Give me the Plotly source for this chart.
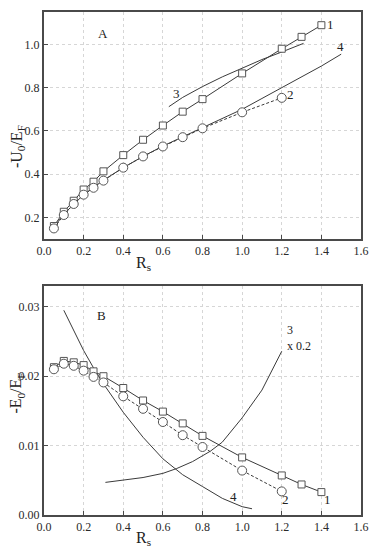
import plotly.graph_objects as go

# ---------------- data: panel A ----------------
xA1 = [0.05, 0.1, 0.15, 0.2, 0.25, 0.3, 0.4, 0.5, 0.6, 0.7, 0.8, 1.0, 1.2, 1.3, 1.4]
yA1 = [0.160, 0.226, 0.277, 0.329, 0.365, 0.413, 0.488, 0.559, 0.625, 0.689, 0.747, 0.866, 0.980, 1.035, 1.089]
xA2 = [0.05, 0.1, 0.15, 0.2, 0.25, 0.3, 0.4, 0.5, 0.6, 0.7, 0.8, 1.0, 1.2]
yA2 = [0.149, 0.211, 0.262, 0.305, 0.337, 0.370, 0.430, 0.482, 0.528, 0.571, 0.612, 0.686, 0.753]
xA3 = [0.63, 0.7, 0.8, 0.9, 1.0, 1.1, 1.2, 1.31]
yA3 = [0.712, 0.755, 0.805, 0.850, 0.890, 0.930, 0.965, 1.005]
xA4 = [0.05, 0.1, 0.2, 0.3, 0.4, 0.5, 0.6, 0.7, 0.8, 0.9, 1.0, 1.1, 1.2, 1.3, 1.4, 1.5]
yA4 = [0.155, 0.215, 0.305, 0.372, 0.430, 0.482, 0.530, 0.573, 0.615, 0.657, 0.700, 0.750, 0.800, 0.850, 0.900, 0.955]

# ---------------- data: panel B ----------------
xB1 = [0.05, 0.1, 0.15, 0.2, 0.25, 0.3, 0.4, 0.5, 0.6, 0.7, 0.8, 1.0, 1.2, 1.3, 1.4]
yB1 = [0.0213, 0.0222, 0.0220, 0.0216, 0.0207, 0.0200, 0.0183, 0.0165, 0.0149, 0.0132, 0.0114, 0.0083, 0.0057, 0.0044, 0.0033]
xB2 = [0.05, 0.1, 0.15, 0.2, 0.25, 0.3, 0.4, 0.5, 0.6, 0.7, 0.8, 1.0, 1.2]
yB2 = [0.0210, 0.0218, 0.0215, 0.0208, 0.0199, 0.0191, 0.0171, 0.0153, 0.0134, 0.0115, 0.0098, 0.0064, 0.0034]
xB3 = [0.31, 0.4, 0.5, 0.6, 0.67, 0.75, 0.84, 0.9, 1.0, 1.1, 1.2]
yB3 = [0.0047, 0.0050, 0.0054, 0.0060, 0.0067, 0.0077, 0.0092, 0.0105, 0.0140, 0.0180, 0.0236]
xB4 = [0.1, 0.15, 0.2, 0.25, 0.3, 0.4, 0.5, 0.6, 0.7, 0.8, 0.9, 1.0, 1.05]
yB4 = [0.0295, 0.0265, 0.0237, 0.0212, 0.0189, 0.0148, 0.0112, 0.0081, 0.0058, 0.0041, 0.0024, 0.0012, 0.0009]

x_ticks = [0.0, 0.2, 0.4, 0.6, 0.8, 1.0, 1.2, 1.4, 1.6]
yA_ticks = [0.2, 0.4, 0.6, 0.8, 1.0]
yB_ticks = [0.00, 0.01, 0.02, 0.03]

LINE = "#3a3a3a"
MK = "#555555"
FONT = "Liberation Serif"

fig = go.Figure()

def add(x, y, xa, ya, mode, symbol=None, size=7, dash="solid"):
    kw = dict(x=x, y=y, xaxis=xa, yaxis=ya, mode=mode, showlegend=False,
              line=dict(color=LINE, width=1, dash=dash), hoverinfo="skip")
    if symbol:
        kw["marker"] = dict(symbol=symbol, size=size, color="white",
                            line=dict(color=MK, width=1))
    fig.add_trace(go.Scatter(**kw))

# panel A
add(xA3, yA3, "x", "y", "lines")
add(xA4, yA4, "x", "y", "lines")
add(xA1, yA1, "x", "y", "lines+markers", "square", 7)
add(xA2, yA2, "x", "y", "lines+markers", "circle", 9, dash="3px,2px")
# panel B
add(xB3, yB3, "x2", "y2", "lines")
add(xB4, yB4, "x2", "y2", "lines")
add(xB1, yB1, "x2", "y2", "lines+markers", "square", 7)
add(xB2, yB2, "x2", "y2", "lines+markers", "circle", 9, dash="3px,2px")

axis_common = dict(showline=True, mirror=True, linecolor="#4a4a4a", linewidth=2,
                   ticks="inside", ticklen=4, tickcolor="#4a4a4a", automargin=False,
                   showgrid=True, gridcolor="#d6d6d6", griddash="dot", gridwidth=1,
                   zeroline=False, tickfont=dict(family=FONT, size=12, color="#2a2a2a"))

fig.update_layout(
    width=375, height=551,
    margin=dict(l=44, r=14, t=12, b=36),
    plot_bgcolor="white", paper_bgcolor="white",
    font=dict(family=FONT, size=12, color="#222"),
    xaxis=dict(domain=[0, 1], range=[0, 1.6], tickvals=x_ticks, tickformat=".1f",
               anchor="y", **axis_common),
    yaxis=dict(domain=[0.5487, 1], range=[0.1, 1.15], tickvals=yA_ticks, tickformat=".1f",
               anchor="x", **axis_common),
    xaxis2=dict(domain=[0, 1], range=[0, 1.6], tickvals=x_ticks, tickformat=".1f",
                anchor="y2", **axis_common),
    yaxis2=dict(domain=[0, 0.4553], range=[0, 0.033], tickvals=yB_ticks, tickformat=".2f",
                anchor="x2", **axis_common),
)

def note(text, x, y, xr, yr, size=13, **kw):
    kw.setdefault("xanchor", "center")
    kw.setdefault("yanchor", "middle")
    fig.add_annotation(text=text, x=x, y=y, xref=xr, yref=yr, showarrow=False,
                       font=dict(family=FONT, size=size, color="#222"), **kw)

# panel A labels
note("A", 0.30, 1.05, "x", "y")
note("1", 1.445, 1.09, "x", "y")
note("2", 1.245, 0.77, "x", "y")
note("3", 0.67, 0.775, "x", "y")
note("4", 1.495, 0.99, "x", "y")
# panel B labels
note("B", 0.29, 0.0287, "x2", "y2")
note("1", 1.43, 0.0022, "x2", "y2")
note("2", 1.22, 0.0022, "x2", "y2")
note("4", 0.955, 0.0026, "x2", "y2")
note("3<br>x 0.2", 1.215, 0.0255, "x2", "y2", size=12, xanchor="left", align="left")

# axis titles
note("R<sub>s</sub>", 0.5, 0, "x", "y domain", size=16, yshift=-24)
note("R<sub>s</sub>", 0.5, 0, "x2", "y2 domain", size=16, yshift=-23)
note("-U<sub>0</sub>/E<sub>F</sub>", 0, 0.405, "paper", "y domain", size=16, textangle=-90, xshift=-27)
note("-E<sub>0</sub>/E<sub>F</sub>", 0, 0.53, "paper", "y2 domain", size=16, textangle=-90, xshift=-27)

fig.write_html("out.html", config={"displayModeBar": False},
               post_script="document.body.style.margin='0';document.body.style.padding='0';")
